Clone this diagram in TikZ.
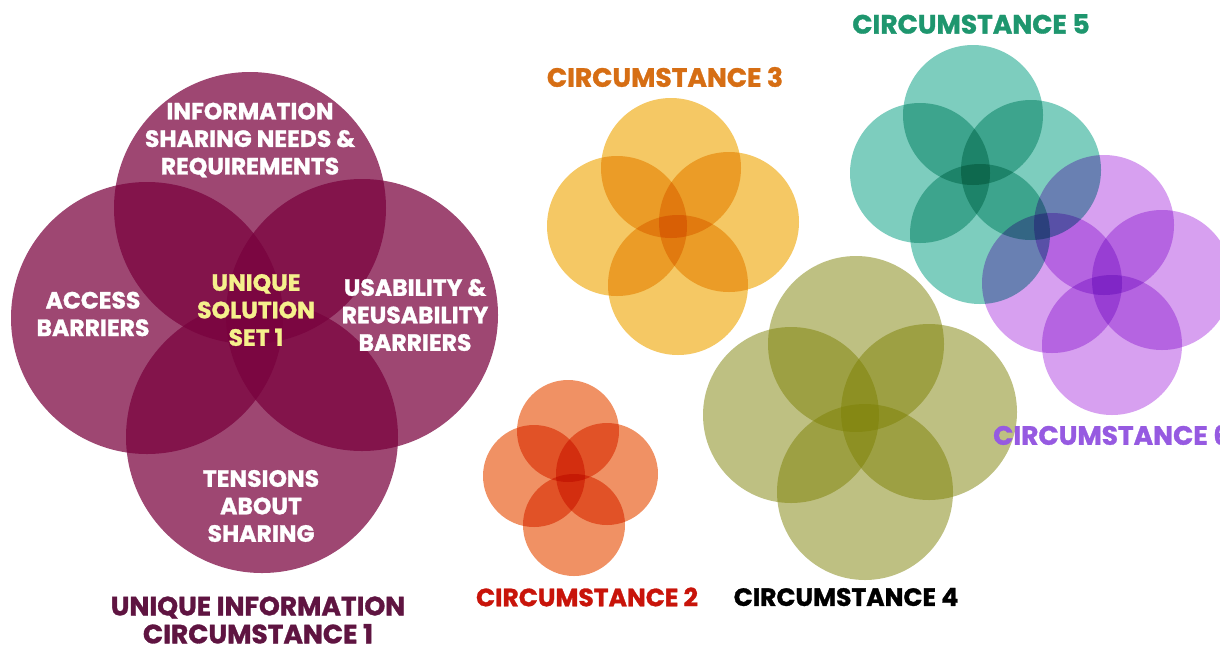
\documentclass[tikz,border=0pt]{standalone}
\usepackage{fontspec}
\setmainfont{Poppins}[BoldFeatures={FakeBold=1.2}]
\usetikzlibrary{positioning}
\definecolor{plum}{HTML}{78003C}
\definecolor{coral}{HTML}{F09164}
\definecolor{mustard}{HTML}{F5C864}
\definecolor{olive}{HTML}{7D8105}
\definecolor{teal}{HTML}{7DCDBE}
\definecolor{lilac}{HTML}{D7A0F0}
\definecolor{plumtext}{HTML}{5F1441}
\definecolor{coraltext}{HTML}{C8140A}
\definecolor{mustardtext}{HTML}{D66E14}
\definecolor{tealtext}{HTML}{1E966E}
\definecolor{lilactext}{HTML}{965AE1}
\definecolor{solution}{HTML}{F5F08C}

\begin{document}
\begin{tikzpicture}[x=1pt, y=-1pt,
    petal/.style={fill=#1, blend mode=multiply},
    veil/.style={fill=#1, fill opacity=0.72},
    inlabel/.style={text=white, align=center, font=\fontsize{23.5}{27.5}\selectfont\bfseries},
    grouplabel/.style={align=center, inner sep=0pt, font=\fontsize{26.5}{28}\selectfont\bfseries}]
    \useasboundingbox (0,0) rectangle (1220,649);

    % circumstance 1
    \foreach \c in {(250,208),(147,318),(362,315),(262,437)}
        \fill[veil=plum] \c circle (136);
    % circumstance 2
    \foreach \c in {(568,431),(534,476),(607,474),(574,525)}
        \fill[petal=coral] \c circle (51);
    % circumstance 3
    \foreach \c in {(671,168),(617,226),(729,222),(678,285)}
        \fill[petal=mustard] \c circle (70);
    % circumstance 4
    \foreach \c in {(856,344),(791,415),(929,412),(865,492)}
        \fill[veil=olive, fill opacity=0.5] \c circle (88);
    % circumstance 5
    \foreach \c in {(973,115),(920,173),(1031,170),(980,234)}
        \fill[petal=teal] \c circle (70);
    % circumstance 6
    \foreach \c in {(1104,225),(1052,283),(1162,280),(1112,345)}
        \fill[petal=lilac] \c circle (70);

    \node[inlabel] (needs) at (250,140) {INFORMATION\\SHARING NEEDS \&\\REQUIREMENTS};
    \node[inlabel] (access) at (93,314) {ACCESS\\BARRIERS};
    \node[inlabel, text=solution] (solution) at (256,310) {UNIQUE\\SOLUTION\\SET 1};
    \node[inlabel] (usability) at (415,315) {USABILITY \&\\REUSABILITY\\BARRIERS};
    \node[inlabel] (tensions) at (261,506) {TENSIONS\\ABOUT\\SHARING};

    \node[grouplabel, text=plumtext] (c1) at (258,620) {UNIQUE INFORMATION\\CIRCUMSTANCE 1};
    \node[grouplabel, text=coraltext, font=\fontsize{25}{28}\selectfont\bfseries] (c2) at (587,597) {CIRCUMSTANCE 2};
    \node[grouplabel, text=mustardtext] (c3) at (665,77) {CIRCUMSTANCE 3};
    \node[grouplabel, text=black, font=\fontsize{25}{28}\selectfont\bfseries] (c4) at (846,597) {CIRCUMSTANCE 4};
    \node[grouplabel, text=tealtext] (c5) at (971,24) {CIRCUMSTANCE 5};
    \node[grouplabel, text=lilactext, anchor=west] (c6) at (993,435) {CIRCUMSTANCE 6};
\end{tikzpicture}
\end{document}
